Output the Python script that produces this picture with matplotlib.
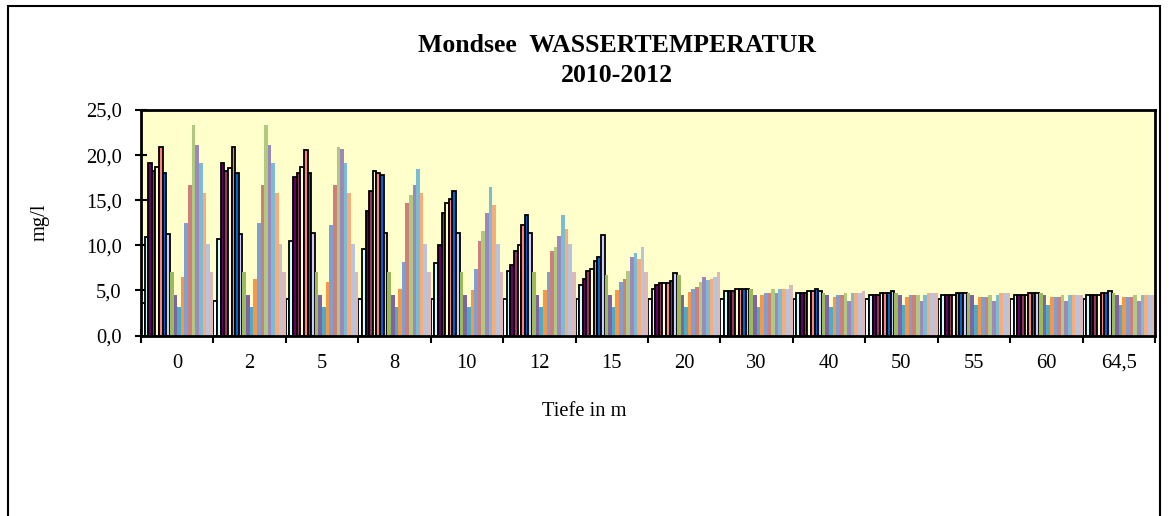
import numpy as np
import matplotlib
matplotlib.use("Agg")
import matplotlib.pyplot as plt
from matplotlib.patches import Rectangle
from matplotlib.ticker import FixedLocator, FuncFormatter

W, H = 1169, 516

depths = ["0", "2", "5", "8", "10", "12", "15", "20", "30", "40", "50", "55", "60", "64,5"]

# one list per depth, 20 series each (8 with black border + 12 without)
d0 = [3.6, 10.9, 19.1, 18.2, 18.7, 20.9, 18.0, 11.3, 7.0, 4.5, 3.2, 6.5, 12.5, 16.7, 23.3, 21.1, 19.1, 15.8, 10.1, 7.0]
d2 = [3.85, 10.7, 19.1, 18.2, 18.6, 20.9, 18.0, 11.3, 7.0, 4.5, 3.2, 6.3, 12.5, 16.7, 23.3, 21.1, 19.1, 15.8, 10.1, 7.0]
d5 = [4.05, 10.5, 17.6, 18.0, 18.7, 20.6, 18.0, 11.4, 7.0, 4.5, 3.2, 5.9, 12.3, 16.7, 20.9, 20.7, 19.1, 15.8, 10.1, 7.0]
d8 = [4.05, 9.6, 13.8, 16.0, 18.2, 18.0, 17.8, 11.4, 7.0, 4.5, 3.2, 5.2, 8.1, 14.7, 15.6, 16.7, 18.5, 15.8, 10.1, 7.0]
d10 = [4.05, 8.0, 10.0, 13.6, 14.7, 15.1, 16.0, 11.4, 7.0, 4.5, 3.2, 5.0, 7.4, 10.5, 11.6, 13.6, 16.5, 14.5, 10.1, 7.0]
d12 = [4.05, 7.1, 7.8, 9.4, 10.0, 12.2, 13.35, 11.4, 7.0, 4.5, 3.2, 5.0, 7.0, 9.4, 9.85, 11.0, 13.4, 11.8, 10.1, 7.0]
d15 = [4.05, 5.6, 6.3, 7.1, 7.4, 8.3, 8.7, 11.1, 6.75, 4.5, 3.2, 5.0, 5.9, 6.3, 7.2, 8.7, 9.2, 8.5, 9.85, 7.0]
d20 = [4.05, 5.2, 5.6, 5.8, 5.8, 5.8, 6.05, 6.9, 6.75, 4.5, 3.2, 4.8, 5.2, 5.4, 5.9, 6.5, 6.1, 6.3, 6.5, 7.0]
d30 = [4.05, 4.9, 4.9, 4.9, 5.15, 5.15, 5.15, 5.15, 5.15, 4.5, 3.2, 4.5, 4.7, 4.7, 5.15, 4.7, 5.15, 5.15, 5.15, 5.6]
d40 = [4.05, 4.7, 4.7, 4.7, 4.95, 4.95, 5.15, 4.95, 4.7, 4.5, 3.2, 4.3, 4.5, 4.5, 4.7, 3.85, 4.7, 4.7, 4.7, 4.95]
d50 = [4.05, 4.5, 4.5, 4.5, 4.7, 4.7, 4.7, 4.95, 4.7, 4.5, 3.4, 4.3, 4.5, 4.5, 4.5, 3.85, 4.5, 4.7, 4.7, 4.7]
d55 = [4.05, 4.5, 4.5, 4.5, 4.5, 4.7, 4.7, 4.7, 4.7, 4.5, 3.4, 4.3, 4.3, 4.3, 4.5, 3.85, 4.5, 4.7, 4.7, 4.7]
d60 = [4.05, 4.5, 4.5, 4.5, 4.5, 4.7, 4.7, 4.7, 4.7, 4.5, 3.4, 4.3, 4.3, 4.3, 4.5, 3.85, 4.5, 4.5, 4.5, 4.5]
d645 = [4.05, 4.5, 4.5, 4.5, 4.5, 4.7, 4.7, 4.95, 4.7, 4.5, 3.4, 4.3, 4.3, 4.3, 4.5, 3.85, 4.5, 4.5, 4.5, 4.5]

bordered_colors = ["#FFFFFF", "#CCFFFF", "#660066", "#993366", "#FFFFCC", "#FF8080", "#0066CC", "#CCCCFF"]
plain_colors = ["#9BBB59", "#8064A2", "#4BACC6", "#F79646", "#7F9FCF", "#CD7F7D",
                "#AFC97F", "#9C88BB", "#7BBCD4", "#F9AC78", "#B8C4DD", "#DDB8B8"]

values = np.array([d0, d2, d5, d8, d10, d12, d15, d20, d30, d40, d50, d55, d60, d645])
n_cat, n_ser = values.shape
colors = bordered_colors + plain_colors

plt.rcParams['font.family'] = ['Liberation Serif', 'DejaVu Serif']

fig = plt.figure(figsize=(W / 100, H / 100), dpi=100)
ax = fig.add_axes([141 / W, 1 - 335.5 / H, (1155 - 141) / W, (335.5 - 110) / H])
ax.set_facecolor("#FFFFCC")

bw = 1.0 / n_ser
x = np.arange(n_cat)
for k in range(n_ser):
    if k < len(bordered_colors):
        ax.bar(x + (k + 0.5) * bw, values[:, k], width=bw, color=colors[k],
               edgecolor="black", linewidth=1.3, zorder=2)
    else:
        ax.bar(x + (k + 0.5) * bw, values[:, k], width=bw, color=colors[k],
               linewidth=0, zorder=2)

ax.set_xlim(0, n_cat)
ax.set_ylim(0, 25)
ax.set_yticks(np.arange(0, 26, 5))
ax.yaxis.set_major_formatter(FuncFormatter(lambda v, p: f"{v:.1f}".replace(".", ",")))
ax.xaxis.set_major_locator(FixedLocator(np.arange(n_cat + 1)))
ax.xaxis.set_major_formatter(FuncFormatter(lambda v, p: ""))
ax.set_xticks(x + 0.5, minor=True)
ax.set_xticklabels(depths, minor=True)
ax.tick_params(axis="x", which="major", direction="inout", length=10, width=1.5)
ax.tick_params(axis="x", which="minor", length=0, pad=13, labelsize=14.8)
ax.tick_params(axis="y", direction="inout", length=8.6, width=1.5, pad=9.5, labelsize=14.8)
for s in ax.spines.values():
    s.set_linewidth(2.0)

fig.text(40 / W, 1 - 222 / H, "mg/l", rotation=90, ha="center", va="center", fontsize=14.8)
fig.text(584 / W, 1 - 411 / H, "Tiefe in m", ha="center", va="center", fontsize=14.8)
fig.text(617 / W, 1 - 45 / H, "Mondsee  WASSERTEMPERATUR", ha="center", va="center",
         fontsize=18.5, fontweight="bold")
fig.text(617 / W, 1 - 76 / H, "2010-2012", ha="center", va="center",
         fontsize=18.5, fontweight="bold")

# chart area border (cut at the bottom of the picture)
fig.patches.append(Rectangle((8 / W, -0.1), (1160 - 8) / W, (H - 6) / H + 0.1,
                             transform=fig.transFigure, fill=False,
                             edgecolor="black", linewidth=1.5))

fig.savefig("out.png", dpi=100)
